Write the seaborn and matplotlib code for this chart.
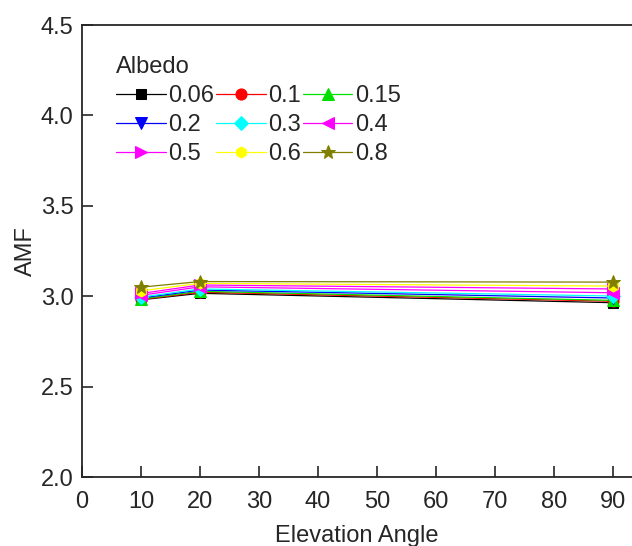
import matplotlib
matplotlib.use("Agg")
import matplotlib.pyplot as plt
import seaborn as sns
import pandas as pd

# Elevation angles (degrees) and air mass factors for each surface albedo
angles = [10, 20, 90]
albedos = ["0.06", "0.1", "0.15", "0.2", "0.3", "0.4", "0.5", "0.6", "0.8"]
amf_006 = [2.980, 3.016, 2.964]
amf_01 = [2.982, 3.022, 2.972]
amf_015 = [2.985, 3.027, 2.977]
amf_02 = [2.990, 3.034, 2.990]
amf_03 = [2.995, 3.040, 3.001]
amf_04 = [3.005, 3.052, 3.019]
amf_05 = [3.015, 3.062, 3.040]
amf_06 = [3.030, 3.071, 3.056]
amf_08 = [3.050, 3.081, 3.078]
series = [amf_006, amf_01, amf_015, amf_02, amf_03, amf_04, amf_05, amf_06, amf_08]

colors = ["#000000", "#FF0000", "#00E000", "#0000FF", "#00FFFF",
          "#FF00FF", "#FF00FF", "#FFFF00", "#808000"]
markers = ["s", "o", "^", "v", "D", "<", ">", "h", "*"]
sizes = [7, 8, 8, 8, 7, 8, 8, 8, 10]

rows = []
for a, vals in zip(albedos, series):
    for x, v in zip(angles, vals):
        rows.append({"Elevation Angle": x, "AMF": v, "Albedo": a})
df = pd.DataFrame(rows)

sns.set_style("ticks")
plt.rcParams["font.family"] = ["Liberation Sans", "DejaVu Sans"]
plt.rcParams["axes.linewidth"] = 1.3

fig = plt.figure(figsize=(6.32, 5.46), dpi=100)
ax = fig.add_axes([82 / 632, 1 - 477 / 546, 1 - 82 / 632, (477 - 25) / 546])

for a, c, m, s in zip(albedos, colors, markers, sizes):
    sub = df[df["Albedo"] == a]
    sns.lineplot(data=sub, x="Elevation Angle", y="AMF", ax=ax, color=c,
                 marker=m, markersize=s, markeredgecolor=c, linewidth=0.9,
                 label=a)

ax.set_xlim(0, 93.2)
ax.set_ylim(2.0, 4.5)
ax.set_xticks(range(0, 100, 10))
ax.set_yticks([2.0, 2.5, 3.0, 3.5, 4.0, 4.5])
ax.set_yticklabels(["2.0", "2.5", "3.0", "3.5", "4.0", "4.5"])
ax.tick_params(direction="in", length=8, width=1.2, labelsize=17)
ax.tick_params(axis="x", pad=10)
ax.tick_params(axis="y", pad=6)
ax.spines["right"].set_visible(False)

ax.set_xlabel("Elevation Angle", fontsize=17, labelpad=9)
ax.set_ylabel("AMF", fontsize=17, labelpad=3)

# legend reads row by row: 0.06 0.1 0.15 / 0.2 0.3 0.4 / 0.5 0.6 0.8
handles, labels = ax.get_legend_handles_labels()
order = [0, 3, 6, 1, 4, 7, 2, 5, 8]
leg = ax.legend([handles[i] for i in order], [labels[i] for i in order],
                title="Albedo", ncol=3, frameon=False,
                fontsize=17, title_fontsize=17, loc="upper left",
                bbox_to_anchor=(0.045, 0.952), handlelength=2.1,
                handletextpad=0.1, columnspacing=0.08, labelspacing=0.3,
                borderaxespad=0)
leg._legend_box.align = "left"

fig.savefig("out.png", dpi=100)
